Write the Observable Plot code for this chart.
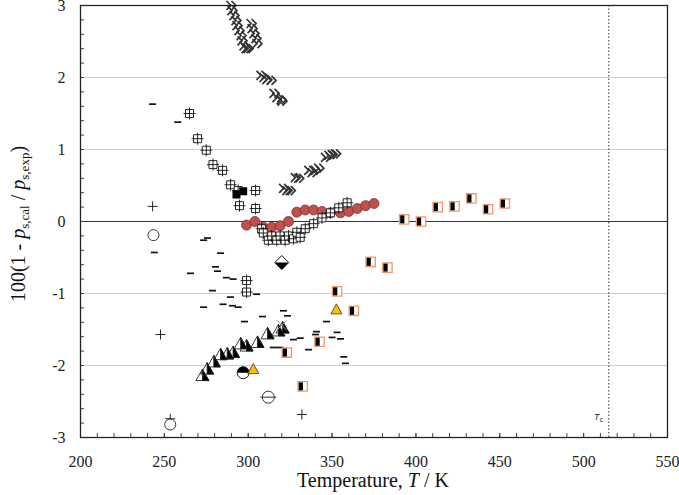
<!DOCTYPE html>
<html>
<head>
<meta charset="utf-8">
<script src="https://cdn.jsdelivr.net/npm/d3@7"></script>
<script src="https://cdn.jsdelivr.net/npm/@observablehq/plot@0.6"></script>
<style>
  body { margin: 0; background: #fff; }
  #chart svg { overflow: visible; }
  #chart svg text { font-family: "Liberation Serif", "Times New Roman", serif; }
</style>
</head>
<body>
<div id="chart"></div>
<script>
// ---- data: [Temperature (K), 100(1 - ps,cal/ps,exp)] ----
const chevrons = [
  [290.6,3.0],[291.2,2.93],[292.4,2.86],[293.6,2.79],[294.2,2.72],[295.4,2.65],[296.6,2.58],[297.2,2.51],[298.4,2.44],[299.6,2.40],[300.8,2.40],
  [302.6,2.75],[303.2,2.68],[304.4,2.61],[305.5,2.54],[306.1,2.47],
  [308.5,2.03],[310.3,2.0],[312,1.97],[314.5,1.96],
  [316.3,1.78],[318,1.72],[320.5,1.69],[321,1.67],
  [322,0.46],[324,0.43],[326,0.43],
  [329,0.61],[331,0.60],[337,0.71],[339,0.68],[341,0.71],[343,0.74],
  [347,0.89],[349,0.92],[351,0.93],[353,0.94]
];
const crossSquares = [
  [265,1.5],[269.8,1.15],[275,0.99],[279,0.79],[284.7,0.71],[289.5,0.51],[294,0.43],[294.8,0.22],
  [299,-0.82],[299,-0.98],[304.4,0.43],[304.4,0.18],
  [308,-0.1],[309,-0.16],[312,-0.26],[314,-0.2],[317,-0.26],[319,-0.2],[322,-0.26],[324,-0.2],
  [327,-0.24],[329,-0.15],[331,-0.22],[334,-0.1],[339,-0.03],[344,0.05],[349,0.12],[354,0.19],[359,0.26]
];
const redCircles = [
  [299,-0.05],[304,0.0],[309,-0.08],[314,-0.08],[319,-0.06],[324,0.0],[329,0.13],[334,0.16],
  [339,0.16],[344,0.14],[349,0.12],[355,0.12],[360,0.14],[365,0.18],[370,0.22],[375,0.25]
];
const blackSquares = [[293,0.375],[297,0.42]];
const dashes = [
  [243,1.63],[258,1.38],[273.4,-0.26],[275.7,-0.23],[244,-0.43],[283.5,-0.44],[265.6,-0.72],[280.5,-0.63],
  [281.7,-0.69],[287,-0.78],[291,-0.8],[278.7,-0.96],[289.4,-1.05],[305,-1.01],[273.4,-1.19],[285,-1.15],
  [290.6,-1.17],[294,-1.19],[297.8,-1.39],[321,-1.24],[323.4,-1.31],[308.5,-1.32],[346.7,-1.39],[340.7,-1.53],
  [340.1,-1.57],[353,-1.54],[327,-1.64],[331,-1.62],[350,-1.61],[355,-1.63],[315,-1.75],[319,-1.75],
  [336,-1.78],[357,-1.88],[358,-1.97]
];
const halfTriangles = [
  [272.7,-2.14],[275.5,-2.05],[279.5,-1.95],[283.5,-1.85],[287.5,-1.84],[291,-1.82],
  [295.5,-1.7],[299,-1.73],[305.5,-1.68],[311.5,-1.56],[318,-1.52],[320.5,-1.48]
];
const halfSquares = [
  [323,-1.82],[332.5,-2.29],[342.5,-1.67],[353,-0.97],[363,-1.24],[373,-0.56],[383,-0.64],
  [393,0.03],[403,0.0],[413,0.2],[423,0.21],[433,0.32],[443,0.17],[453,0.25]
];
const plusMarks = [[243,0.21],[247.7,-1.57],[253.5,-2.74],[332,-2.68]];
const openCircles = [[243.5,-0.19],[253.5,-2.82]];
const thetaCircles = [[312,-2.44]];
const halfCircles = [[297,-2.1]];
const yellowTriangles = [[303,-2.05],[352.6,-1.22]];
const halfDiamonds = [[320,-0.57]];
const timesMarks = [[320,-1.44]];
const criticalT = [515];
const xMajor = d3.range(200, 551, 50);
const xMinor = d3.range(200, 551, 10);
const yMajor = d3.range(-3, 3.01, 1);
const yMinor = d3.range(-3, 3.01, 0.2).map(v => Math.round(v * 10) / 10);
const yGrid = [-2, -1, 1, 2];

// ---- custom symbols ----
const sym = fn => ({draw(ctx) { fn(ctx); }});
const chevronSym = sym(c => { c.moveTo(-6,-4.5); c.lineTo(-1.5,0); c.lineTo(-6,4.5); c.moveTo(-1,-4.5); c.lineTo(3.5,0); c.lineTo(-1,4.5); });
const dashSym = sym(c => { c.moveTo(-3.5,0); c.lineTo(3.5,0); });
const crossSqSym = sym(c => { c.rect(-4,-4,8,8); c.moveTo(0,-6); c.lineTo(0,6); c.moveTo(-6,0); c.lineTo(6,0); });
const squareOut = sym(c => { c.rect(-4.7,-4.7,9.4,9.4); });
const squareLeft = sym(c => { c.rect(-4,-4,4.2,8); });
const blackSq = sym(c => { c.rect(-4,-4,8,8); });
const triOut = sym(c => { c.moveTo(0,-6.5); c.lineTo(6.5,5); c.lineTo(-6.5,5); c.closePath(); });
const triRight = sym(c => { c.moveTo(0,-6.5); c.lineTo(6.5,5); c.lineTo(0,5); c.closePath(); });
const smallTri = sym(c => { c.moveTo(0,-5.5); c.lineTo(5.5,4.5); c.lineTo(-5.5,4.5); c.closePath(); });
const circ = r => sym(c => { c.moveTo(r,0); c.arc(0,0,r,0,2*Math.PI); });
const topHalf = sym(c => { c.moveTo(-6,0); c.arc(0,0,6,Math.PI,2*Math.PI); c.closePath(); });
const thetaLine = sym(c => { c.moveTo(-8,0); c.lineTo(8,0); });
const diamondOut = sym(c => { c.moveTo(0,-7); c.lineTo(7,0); c.lineTo(0,7); c.lineTo(-7,0); c.closePath(); });
const diamondBottom = sym(c => { c.moveTo(-7,0); c.lineTo(7,0); c.lineTo(0,7); c.closePath(); });
const plusSym = sym(c => { c.moveTo(-5,0); c.lineTo(5,0); c.moveTo(0,-5); c.lineTo(0,5); });
const timesSym = sym(c => { c.moveTo(-5,-5); c.lineTo(5,5); c.moveTo(-5,5); c.lineTo(5,-5); });

const X = d => d[0], Y = d => d[1];
const dot = (data, symbol, o) => Plot.dot(data, {x: X, y: Y, symbol, ...o});
const axisFont = {fontSize: 16, fill: "#222"};

const plot = Plot.plot({
  width: 679,
  height: 495,
  marginLeft: 80,
  marginRight: 12,
  marginTop: 5,
  marginBottom: 58,
  style: {background: "#fff"},
  x: {domain: [200, 550]},
  y: {domain: [-3, 3]},
  marks: [
    Plot.ruleY(yGrid, {stroke: "#cfcfcf", strokeWidth: 1}),
    Plot.ruleY([0], {stroke: "#333", strokeWidth: 1}),
    Plot.ruleX(criticalT, {stroke: "#333", strokeWidth: 1, strokeDasharray: "1.5,2"}),
    Plot.text(["T"], {x: () => 509.5, y: () => -2.72, text: d => d, fontStyle: "italic", fontSize: 9, textAnchor: "end", fill: "#222", className: "tc-label"}),
    Plot.text(["c"], {x: () => 509.6, y: () => -2.72, text: d => d, fontSize: 6.5, textAnchor: "start", dy: 2.5, fill: "#222", className: "tc-label"}),
    Plot.axisX({ticks: xMinor, tickSize: -4, tickFormat: () => "", label: null, stroke: "#444"}),
    Plot.axisX({ticks: xMajor, tickSize: -4, tickPadding: 22, tickFormat: d => String(d), label: null, stroke: "#444", ...axisFont}),
    Plot.axisY({ticks: yMinor, tickSize: -4, tickFormat: () => "", label: null, stroke: "#444"}),
    Plot.axisY({ticks: yMajor, tickSize: -4, tickPadding: 19, tickFormat: d => String(d), label: null, stroke: "#444", ...axisFont}),
    // series
    dot(dashes, dashSym, {fill: "none", stroke: "#111", strokeWidth: 1.7}),
    dot(chevrons, chevronSym, {fill: "none", stroke: "#333", strokeWidth: 1.7}),
    dot(redCircles, circ(5), {fill: "#C0504D", stroke: "#7a2e2b", strokeWidth: 0.8}),
    dot(crossSquares, crossSqSym, {fill: "white", stroke: "#111", strokeWidth: 0.9}),
    dot(blackSquares, blackSq, {fill: "#000", stroke: "none"}),
    dot(halfTriangles, triOut, {fill: "white", stroke: "#222", strokeWidth: 0.9}),
    dot(halfTriangles, triRight, {fill: "#000", stroke: "#222", strokeWidth: 0.9}),
    dot(halfSquares, squareOut, {fill: "white", stroke: "#EE9966", strokeWidth: 1.3}),
    dot(halfSquares, squareLeft, {fill: "#000", stroke: "none"}),
    dot(plusMarks, plusSym, {fill: "none", stroke: "#222", strokeWidth: 1}),
    dot(openCircles, circ(5.5), {fill: "white", stroke: "#333", strokeWidth: 1}),
    dot(thetaCircles, circ(6), {fill: "white", stroke: "#333", strokeWidth: 1}),
    dot(thetaCircles, thetaLine, {fill: "none", stroke: "#333", strokeWidth: 1}),
    dot(halfCircles, circ(6), {fill: "white", stroke: "#222", strokeWidth: 1}),
    dot(halfCircles, topHalf, {fill: "#000", stroke: "none"}),
    dot(yellowTriangles, smallTri, {fill: "#FFC000", stroke: "#444", strokeWidth: 0.9}),
    dot(halfDiamonds, diamondOut, {fill: "white", stroke: "#111", strokeWidth: 1}),
    dot(halfDiamonds, diamondBottom, {fill: "#000", stroke: "none"}),
    dot(timesMarks, timesSym, {fill: "none", stroke: "#999", strokeWidth: 1}),
    Plot.frame({stroke: "#222", strokeWidth: 1.3})
  ]
});

document.getElementById("chart").appendChild(plot);

const svg = d3.select(plot);
// Tc label in a sans face, as in the reference
svg.selectAll(".tc-label text").style("font-family", "'Liberation Sans', Arial, sans-serif");

// axis titles with italic letters and subscripts
const xt = svg.append("text")
  .attr("x", 373).attr("y", 487)
  .attr("text-anchor", "middle")
  .attr("font-size", 20).attr("fill", "#111");
xt.append("tspan").text("Temperature, ");
xt.append("tspan").attr("font-style", "italic").text("T");
xt.append("tspan").text(" / K");

const yt = svg.append("text")
  .attr("transform", "translate(25,224) rotate(-90)")
  .attr("text-anchor", "middle")
  .attr("font-size", 20).attr("fill", "#111");
yt.append("tspan").text("100(1 - ");
yt.append("tspan").attr("font-style", "italic").text("p");
yt.append("tspan").attr("font-size", 13).attr("dy", 4).text("s,cal");
yt.append("tspan").attr("dy", -4).text(" / ");
yt.append("tspan").attr("font-style", "italic").text("p");
yt.append("tspan").attr("font-size", 13).attr("dy", 4).text("s,exp");
yt.append("tspan").attr("dy", -4).text(")");
</script>
</body>
</html>
